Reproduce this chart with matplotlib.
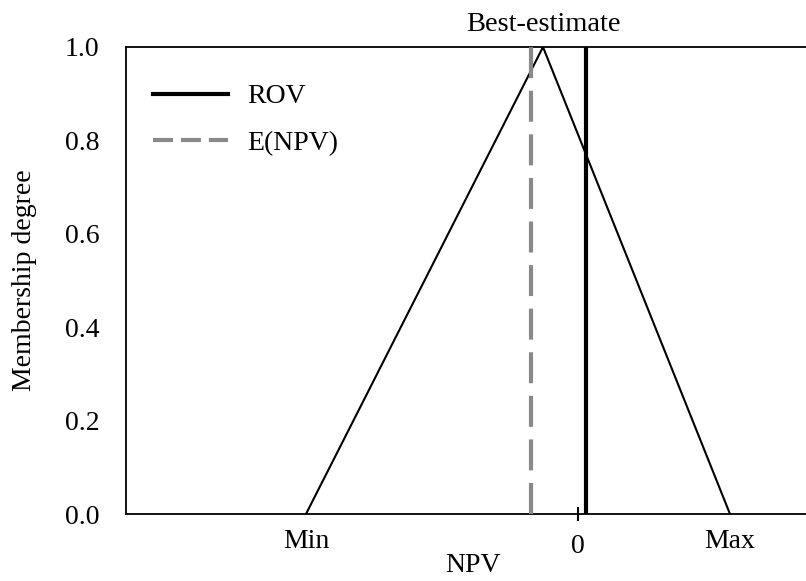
import matplotlib
matplotlib.use("Agg")
import matplotlib.pyplot as plt
from matplotlib.lines import Line2D

# Data (NPV in arbitrary units, 0 = zero NPV)
npv_min = -272
npv_best = -35
npv_max = 152
rov = 8
e_npv = -47
tri_x = [npv_min, npv_best, npv_max]
tri_y = [0.0, 1.0, 0.0]
xtick_pos = [npv_min, 0, npv_max]
xtick_labels = ["Min", "0", "Max"]
ytick_vals = [0.0, 0.2, 0.4, 0.6, 0.8, 1.0]

plt.rcParams['font.family'] = ['Liberation Serif', 'DejaVu Serif']
FS = 20

fig = plt.figure(figsize=(8.06, 5.81), dpi=100)
W, H = 806, 581
left, right, top, bottom = 126, 820, 47, 514
ax = fig.add_axes([left / W, 1 - bottom / H, (right - left) / W, (bottom - top) / H])

gray = '#898989'
ax.plot(tri_x, tri_y, color='black', lw=1.5, solid_joinstyle='miter', zorder=3)
ax.plot([rov, rov], [0, 1], color='black', lw=3, zorder=4)
ax.plot([e_npv, e_npv], [0, 1], color=gray, lw=3, dashes=(7.44, 3.02), zorder=4)

ax.set_xlim(left - 578, right - 578)
ax.set_ylim(0, 1)

for s in ['top', 'left', 'bottom']:
    ax.spines[s].set_linewidth(1.3)
ax.spines['right'].set_visible(False)

ax.set_yticks(ytick_vals)
ax.set_yticklabels([f"{v:.1f}" for v in ytick_vals], fontsize=FS)
ax.tick_params(axis='y', length=0, pad=19)

ax.set_xticks(xtick_pos)
ax.set_xticklabels(xtick_labels, fontsize=FS)
ax.tick_params(axis='x', direction='inout', length=9.5, width=1.5, pad=6)
for i, t in enumerate(ax.xaxis.get_major_ticks()):
    if xtick_labels[i] != "0":
        t.tick1line.set_visible(False)
    else:
        t.set_pad(10)

ax.set_xlabel("NPV", fontsize=FS)
ax.xaxis.set_label_coords(0.5, -0.084)
ax.set_ylabel("Membership degree", fontsize=FS, labelpad=20)

ax.annotate("Best-estimate", xy=(npv_best, 1.0), xycoords='data',
            xytext=(0, 7), textcoords='offset points',
            ha='center', va='bottom', fontsize=20.5, annotation_clip=False)

h_rov = Line2D([], [], color='black', lw=3)
h_e = Line2D([], [], color=gray, lw=3, dashes=(4.8, 1.9))
ax.legend([h_rov, h_e], ["ROV", "E(NPV)"], loc='upper left',
          bbox_to_anchor=(27 / (right - left), 0.921), frameon=False,
          fontsize=FS, handlelength=2.7, handletextpad=0.68,
          labelspacing=0.76, borderpad=0, borderaxespad=0)

fig.savefig("out.png", dpi=100)
